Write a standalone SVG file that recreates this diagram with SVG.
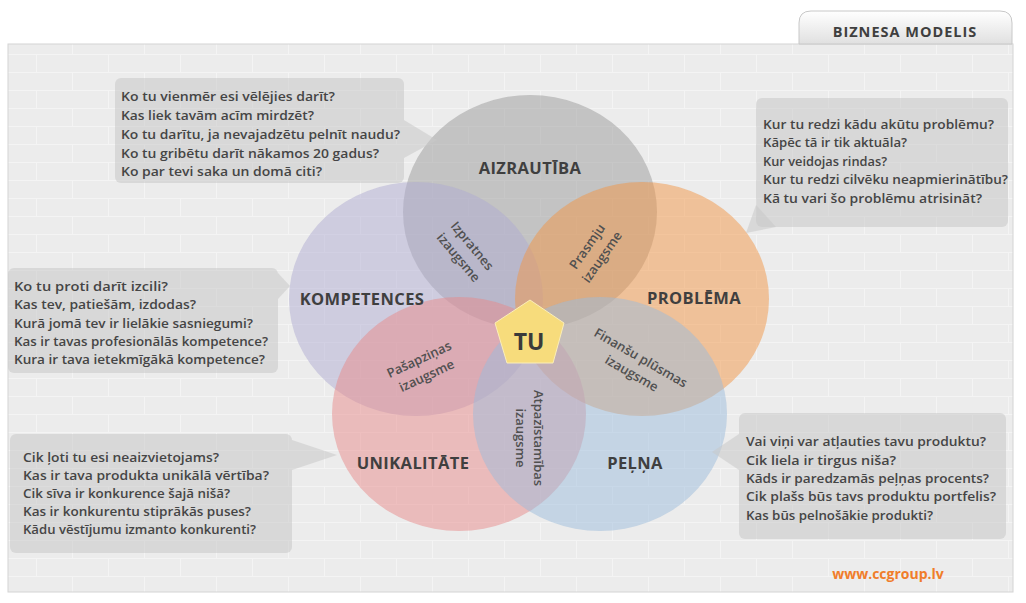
<svg xmlns="http://www.w3.org/2000/svg" width="1026" height="603" viewBox="0 0 1026 603">
<defs>
<pattern id="bricks" width="72" height="36" patternUnits="userSpaceOnUse">
<rect width="72" height="36" fill="#ececec"/>
<path d="M0 0.5H72M0 18.5H72M0.5 0V18M36.5 18V36" stroke="#f4f4f4" stroke-width="1.2" fill="none"/>
</pattern>
<linearGradient id="tabg" x1="0" y1="0" x2="0" y2="1">
<stop offset="0" stop-color="#ffffff"/>
<stop offset="1" stop-color="#e0e0e0"/>
</linearGradient>
<style>
text{font-family:"Open Sans","Liberation Sans",sans-serif;fill:#454545}
.q{font-size:13px;font-weight:600}
.big{font-size:16.5px;font-weight:700;text-anchor:middle;fill:#3f3f3f;letter-spacing:0.4px}
.sm{font-size:13px;font-weight:600;text-anchor:middle;fill:#505050}
.circ{opacity:0.5}
.box{fill:#c8c8c8;opacity:0.55}
</style>
</defs>
<rect x="0" y="0" width="1026" height="603" fill="#ffffff"/>
<rect x="8" y="44" width="1005" height="548" fill="url(#bricks)" stroke="#d4d4d4"/>
<g id="tab">
<path d="M799 44V23Q799 11 811 11H1000Q1012 11 1012 23V44Z" fill="url(#tabg)" stroke="#c8c8c8"/>
<text x="905" y="37" style="font-size:14.5px;font-weight:700;text-anchor:middle;letter-spacing:1px;fill:#3f3f3f">BIZNESA MODELIS</text>
</g>
<g id="circles">
<ellipse id="c-aizrautiba" class="circ" cx="530" cy="212" rx="127" ry="117" fill="#9a9a9a"/>
<ellipse id="c-kompetences" class="circ" cx="416" cy="299" rx="127" ry="117" fill="#b0acd2"/>
<ellipse id="c-problema" class="circ" cx="642" cy="299" rx="127" ry="117" fill="#f29646"/>
<ellipse id="c-unikalitate" class="circ" cx="459" cy="414" rx="127" ry="117" fill="#e88a8a"/>
<ellipse id="c-pelna" class="circ" cx="600" cy="414" rx="127" ry="117" fill="#9cbcdc"/>
</g>
<g id="labels">
<text class="big" x="530" y="174">AIZRAUTĪBA</text>
<text class="big" x="362" y="305">KOMPETENCES</text>
<text class="big" x="694" y="304">PROBLĒMA</text>
<text class="big" x="413" y="469">UNIKALITĀTE</text>
<text class="big" x="635" y="469">PEĻŅA</text>
</g>
<g id="overlaps">
<g transform="translate(465,252) rotate(50)"><text class="sm" y="-5">Izpratnes</text><text class="sm" y="13">izaugsme</text></g>
<g transform="translate(595,252) rotate(-55)"><text class="sm" y="-5">Prasmju</text><text class="sm" y="13">izaugsme</text></g>
<g transform="translate(423,368) rotate(-25)"><text class="sm" y="-5">Pašapziņas</text><text class="sm" y="13">izaugsme</text></g>
<g transform="translate(636,366) rotate(30)"><text class="sm" y="-5">Finanšu plūsmas</text><text class="sm" y="13">izaugsme</text></g>
<g transform="translate(529,438) rotate(90)"><text class="sm" y="-5">Atpazīstamības</text><text class="sm" y="13">izaugsme</text></g>
</g>
<g id="tu">
<polygon points="530,300 564,323 553,363 507,363 495,323" fill="#f7dc7c" stroke="#fbeeb8" stroke-width="1"/>
<text x="529" y="350" style="font-size:23px;font-weight:700;text-anchor:middle;fill:#3a3a3a">TU</text>
</g>
<g id="box-aizrautiba">
<rect class="box" x="115" y="78" width="289" height="105" rx="6"/>
<polygon class="box" points="404,120 437,140 404,158"/>
<text class="q" x="121" y="101" textLength="214" lengthAdjust="spacingAndGlyphs">Ko tu vienmēr esi vēlējies darīt?</text>
<text class="q" x="121" y="120" textLength="193" lengthAdjust="spacingAndGlyphs">Kas liek tavām acīm mirdzēt?</text>
<text class="q" x="121" y="139" textLength="279" lengthAdjust="spacingAndGlyphs">Ko tu darītu, ja nevajadzētu pelnīt naudu?</text>
<text class="q" x="121" y="158" textLength="258" lengthAdjust="spacingAndGlyphs">Ko tu gribētu darīt nākamos 20 gadus?</text>
<text class="q" x="121" y="176" textLength="201" lengthAdjust="spacingAndGlyphs">Ko par tevi saka un domā citi?</text>
</g>
<g id="box-problema">
<rect class="box" x="756" y="98" width="252" height="129" rx="6"/>
<polygon class="box" points="756,205 746,233 776,227"/>
<text class="q" x="763" y="129" textLength="231" lengthAdjust="spacingAndGlyphs">Kur tu redzi kādu akūtu problēmu?</text>
<text class="q" x="763" y="147" textLength="144" lengthAdjust="spacingAndGlyphs">Kāpēc tā ir tik aktuāla?</text>
<text class="q" x="763" y="166" textLength="124" lengthAdjust="spacingAndGlyphs">Kur veidojas rindas?</text>
<text class="q" x="763" y="184" textLength="245" lengthAdjust="spacingAndGlyphs">Kur tu redzi cilvēku neapmierinātību?</text>
<text class="q" x="763" y="203" textLength="219" lengthAdjust="spacingAndGlyphs">Kā tu vari šo problēmu atrisināt?</text>
</g>
<g id="box-kompetences">
<rect class="box" x="8" y="268" width="270" height="105" rx="6"/>
<polygon class="box" points="278,273 290,286 278,299"/>
<text class="q" x="14" y="291" textLength="154" lengthAdjust="spacingAndGlyphs">Ko tu proti darīt izcili?</text>
<text class="q" x="14" y="309" textLength="182" lengthAdjust="spacingAndGlyphs">Kas tev, patiešām, izdodas?</text>
<text class="q" x="14" y="328" textLength="239" lengthAdjust="spacingAndGlyphs">Kurā jomā tev ir lielākie sasniegumi?</text>
<text class="q" x="14" y="346" textLength="254" lengthAdjust="spacingAndGlyphs">Kas ir tavas profesionālās kompetence?</text>
<text class="q" x="14" y="364" textLength="251" lengthAdjust="spacingAndGlyphs">Kura ir tava ietekmīgākā kompetence?</text>
</g>
<g id="box-unikalitate">
<rect class="box" x="10" y="434" width="282" height="119" rx="6"/>
<polygon class="box" points="292,440 337,455 292,470"/>
<text class="q" x="23" y="462" textLength="196" lengthAdjust="spacingAndGlyphs">Cik ļoti tu esi neaizvietojams?</text>
<text class="q" x="23" y="480" textLength="246" lengthAdjust="spacingAndGlyphs">Kas ir tava produkta unikālā vērtība?</text>
<text class="q" x="23" y="498" textLength="207" lengthAdjust="spacingAndGlyphs">Cik sīva ir konkurence šajā nišā?</text>
<text class="q" x="23" y="516" textLength="228" lengthAdjust="spacingAndGlyphs">Kas ir konkurentu stiprākās puses?</text>
<text class="q" x="23" y="534" textLength="233" lengthAdjust="spacingAndGlyphs">Kādu vēstījumu izmanto konkurenti?</text>
</g>
<g id="box-pelna">
<rect class="box" x="739" y="413" width="267" height="126" rx="6"/>
<polygon class="box" points="739,434 712,452 739,470"/>
<text class="q" x="746" y="446" textLength="240" lengthAdjust="spacingAndGlyphs">Vai viņi var atļauties tavu produktu?</text>
<text class="q" x="746" y="465" textLength="150" lengthAdjust="spacingAndGlyphs">Cik liela ir tirgus niša?</text>
<text class="q" x="746" y="483" textLength="243" lengthAdjust="spacingAndGlyphs">Kāds ir paredzamās peļņas procents?</text>
<text class="q" x="746" y="501" textLength="250" lengthAdjust="spacingAndGlyphs">Cik plašs būs tavs produktu portfelis?</text>
<text class="q" x="746" y="520" textLength="187" lengthAdjust="spacingAndGlyphs">Kas būs pelnošākie produkti?</text>
</g>
<text x="888" y="579" style="font-size:14px;font-weight:700;text-anchor:middle;fill:#f07d2a">www.ccgroup.lv</text>
</svg>
